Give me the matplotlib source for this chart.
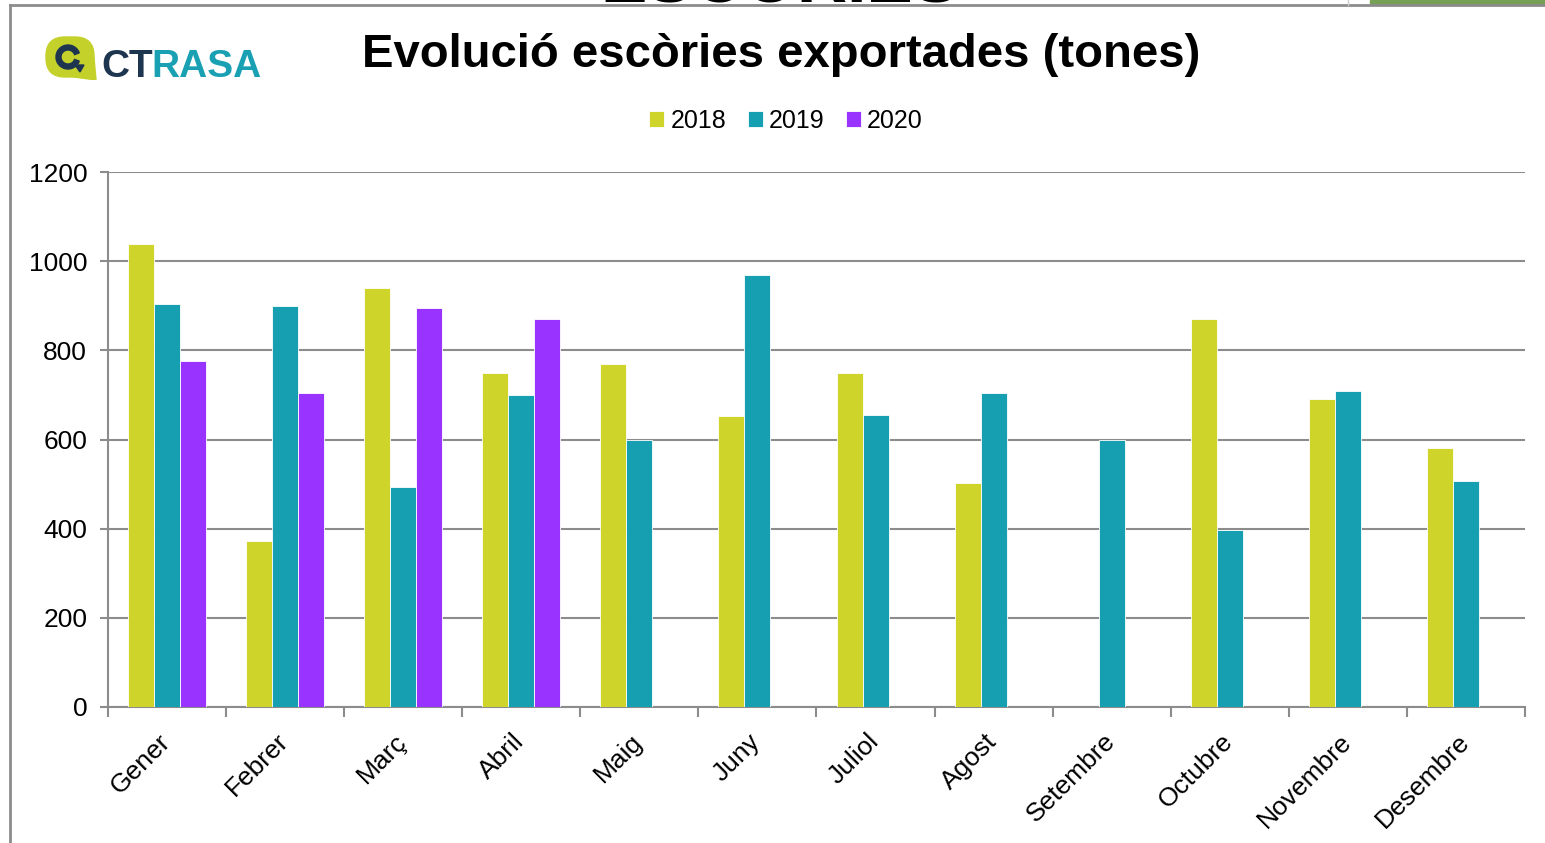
import numpy as np
import matplotlib.pyplot as plt
import matplotlib.transforms as mtransforms
from matplotlib.patches import FancyBboxPatch, Wedge, Polygon, Rectangle
from matplotlib.lines import Line2D

plt.rcParams['font.family'] = ['Liberation Sans', 'DejaVu Sans']

# dades (tones)
mesos = ['Gener', 'Febrer', 'Març', 'Abril', 'Maig', 'Juny', 'Juliol',
         'Agost', 'Setembre', 'Octubre', 'Novembre', 'Desembre']
anys = ['2018', '2019', '2020']
t2018 = [1038, 372, 940, 750, 770, 653, 750, 503, None, 870, 690, 582]
t2019 = [903, 900, 494, 700, 600, 968, 655, 705, 600, 398, 708, 508]
t2020 = [776, 705, 895, 870, None, None, None, None, None, None, None, None]
colors = ['#CFD42A', '#169FB0', '#9933FF']

W, H = 1545, 843
fig = plt.figure(figsize=(W / 100, H / 100), dpi=100)
ax = fig.add_axes([108 / W, 1 - 707 / H, (1525 - 108) / W, (707 - 172) / H])

x = np.arange(len(mesos))
w = 0.22
series = [t2018, t2019, t2020]
for i, (s, c, lab) in enumerate(zip(series, colors, anys)):
    vals = np.array(s, dtype=float)
    ax.bar(x + (i - 1) * w, vals, w, color=c, edgecolor='white',
           linewidth=0.6, label=lab, zorder=3)

grey = '#8C8C8C'
ax.set_ylim(0, 1200)
ax.set_yticks(np.arange(0, 1201, 200))
ax.set_xlim(-0.5, len(mesos) - 0.5)
ax.yaxis.grid(True, color=grey, linewidth=1.5, zorder=0)
for side in ['top', 'right']:
    ax.spines[side].set_visible(False)
for side in ['left', 'bottom']:
    ax.spines[side].set_color(grey)
    ax.spines[side].set_linewidth(1.5)
ax.tick_params(axis='y', length=6, width=1.5, color=grey, labelsize=19, pad=9)
ax.set_xticks(x)
ax.set_xticklabels(mesos, rotation=45, ha='right', rotation_mode='anchor', fontsize=19)
ax.tick_params(axis='x', which='major', length=0, pad=16)
shift = mtransforms.ScaledTranslation(-9 / 100, 0, fig.dpi_scale_trans)
for lbl in ax.get_xticklabels():
    lbl.set_transform(lbl.get_transform() + shift)
ax.set_xticks(np.arange(-0.5, len(mesos)), minor=True)
ax.tick_params(axis='x', which='minor', length=7, width=1.5, color=grey)

fig.text(781 / W, 1 - 55 / H, 'Evolució escòries exportades (tones)',
         ha='center', va='center', fontsize=34, fontweight='bold')
fig.legend(loc='center', bbox_to_anchor=(786 / W, 1 - 121 / H), ncol=3,
           frameon=False, fontsize=18, handlelength=0.6, handleheight=0.6,
           handletextpad=0.25, columnspacing=0.85)

# marc i restes de la diapositiva
fig.text(780 / W, 1 - 2 / H, 'ESCÒRIES', ha='center', va='baseline',
         fontsize=50, fontweight='bold')
fig.add_artist(Rectangle((1370 / W, 1 - 4 / H), (W - 1370) / W, 4 / H,
                         transform=fig.transFigure, color='#76A054', zorder=5))
fig.add_artist(Line2D([10 / W, 1], [1 - 5 / H] * 2, color=grey, lw=2,
                      transform=fig.transFigure, zorder=6))
fig.add_artist(Line2D([10 / W] * 2, [0, 1 - 5 / H], color=grey, lw=2,
                      transform=fig.transFigure, zorder=6))
fig.add_artist(Line2D([1348 / W] * 2, [1 - 5 / H, 1], color='#CCCCCC', lw=1,
                      transform=fig.transFigure, zorder=6))

# logo
lg = fig.add_axes([44 / W, 1 - 80 / H, 54 / W, 46 / H])
lg.set_xlim(0, 54)
lg.set_ylim(0, 46)
lg.axis('off')
lg.add_patch(FancyBboxPatch((2, 3), 48, 40, boxstyle='round,pad=0,rounding_size=19',
                            color='#C5D12B'))
lg.add_patch(Polygon([[30, 3], [52, 0], [50, 22]], color='#C5D12B'))
lg.add_patch(Wedge((24, 23), 12, 20, 340, width=5, color='#1E3550'))
lg.add_patch(Polygon([[31, 15], [40, 15], [36, 8]], color='#1E3550'))
t1 = fig.text(101 / W, 1 - 77 / H, 'CT', fontsize=28, fontweight='bold',
              color='#1E3550', va='baseline')
ax.annotate('RASA', xy=(1, 0), xycoords=t1, xytext=(-1, 0),
            textcoords='offset points', fontsize=28, fontweight='bold',
            color='#1AA0B3', va='bottom', ha='left', annotation_clip=False)

fig.savefig('out.png', dpi=100)
